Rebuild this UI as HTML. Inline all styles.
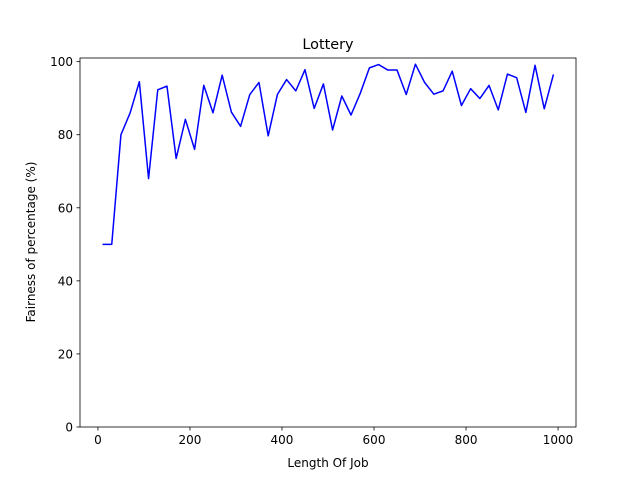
<!DOCTYPE html>
<html><head><meta charset="utf-8"><style>
body{margin:0;background:#fff}
svg text{font-family:"DejaVu Sans","Liberation Sans",sans-serif;fill:#000}
</style></head><body>
<svg id="chart" width="640" height="480">
<rect width="640" height="480" fill="#fff"/>
<g id="ticks"></g>
<path id="line" fill="none" stroke="#0000ff" stroke-width="1.5" stroke-linejoin="round"/>
<rect x="80" y="58" width="496" height="369" fill="none" stroke="#000" stroke-width="0.8"/>
<text x="328" y="49" text-anchor="middle" font-size="14.4">Lottery</text>
<text x="328" y="467" text-anchor="middle" font-size="12">Length Of Job</text>
<text transform="translate(35,242) rotate(-90)" text-anchor="middle" font-size="12">Fairness of percentage (%)</text>
</svg>
<script>
const jobLengths=[10,30,50,70,90,110,130,150,170,190,210,230,250,270,290,310,330,350,370,390,410,430,450,470,490,510,530,550,570,590,610,630,650,670,690,710,730,750,770,790,810,830,850,870,890,910,930,950,970,990];
const fairness=[50,50,80,86,94.5,68,92.3,93.3,73.5,84.2,76,93.5,86,96.3,86.2,82.3,91,94.3,79.7,91,95.1,92,97.8,87.2,93.9,81.3,90.6,85.4,91.3,98.3,99.2,97.7,97.7,91,99.3,94.3,91.1,92,97.4,88,92.6,89.9,93.5,86.8,96.6,95.6,86.1,99,87.1,96.5];
const xTicks=[0,200,400,600,800,1000];
const yTicks=[0,20,40,60,80,100];
const L=80,R=576,T=58,B=427;
const xMin=-39,xMax=1039,yMin=0,yMax=101;
const X=v=>L+(v-xMin)/(xMax-xMin)*(R-L);
const Y=v=>B-(v-yMin)/(yMax-yMin)*(B-T);
const NS='http://www.w3.org/2000/svg';
const g=document.getElementById('ticks');
function mk(tag,attrs){const e=document.createElementNS(NS,tag);for(const k in attrs)e.setAttribute(k,attrs[k]);g.appendChild(e);return e;}
xTicks.forEach(t=>{
 const l=mk('line',{x1:X(t),x2:X(t),y1:B,y2:B+3.5,stroke:'#000','stroke-width':0.8});
 
 
 const s=mk('text',{x:X(t),y:B+17,'text-anchor':'middle','font-size':12});
 s.textContent=t;
 
 
});
yTicks.forEach(t=>{
 const l=mk('line',{x1:L-3.5,x2:L,y1:Y(t),y2:Y(t),stroke:'#000','stroke-width':0.8});
 
 
 const s=mk('text',{x:L-7,y:Y(t)+4.5,'text-anchor':'end','font-size':12});
 s.textContent=t;
 
 
});
document.getElementById('line').setAttribute('d',jobLengths.map((x,i)=>(i?'L':'M')+X(x).toFixed(2)+','+Y(fairness[i]).toFixed(2)).join(''));
</script>
</body></html>
